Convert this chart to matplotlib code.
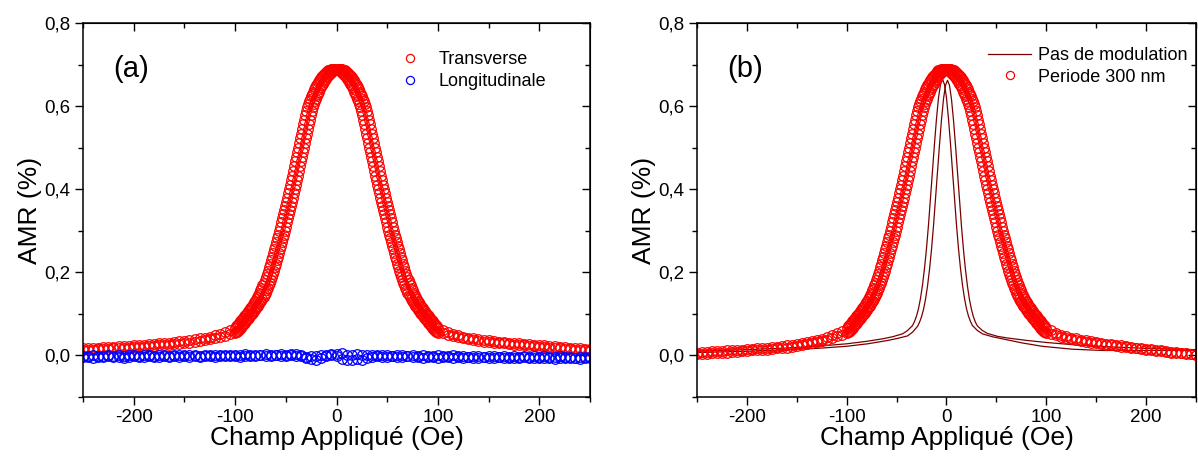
import matplotlib
matplotlib.use("Agg")
import matplotlib.pyplot as plt
from matplotlib.ticker import MultipleLocator, FixedLocator, FixedFormatter

plt.rcParams['font.family'] = ['Liberation Sans', 'DejaVu Sans']
plt.rcParams['axes.unicode_minus'] = False

### Data
# field sweep grid, red curves
h_tail_left = [-250, -245, -240, -235, -230, -225, -220, -215, -210, -205,
               -200, -195, -190, -185, -180, -175, -170, -165, -160, -155,
               -150, -145, -140, -135, -130, -125, -120, -115, -110, -105]
h_core = [-100, -99, -98, -97, -96, -95, -94, -93, -92, -91,
          -90, -89, -88, -87, -86, -85, -84, -83, -82, -81,
          -80, -79, -78, -77, -76, -75, -74, -73, -72, -71,
          -70, -69, -68, -67, -66, -65, -64, -63, -62, -61,
          -60, -59, -58, -57, -56, -55, -54, -53, -52, -51,
          -50, -49, -48, -47, -46, -45, -44, -43, -42, -41,
          -40, -39, -38, -37, -36, -35, -34, -33, -32, -31,
          -30, -29, -28, -27, -26, -25, -24, -23, -22, -21,
          -20, -19, -18, -17, -16, -15, -14, -13, -12, -11,
          -10, -9, -8, -7, -6, -5, -4, -3, -2, -1,
          0, 1, 2, 3, 4, 5, 6, 7, 8, 9,
          10, 11, 12, 13, 14, 15, 16, 17, 18, 19,
          20, 21, 22, 23, 24, 25, 26, 27, 28, 29,
          30, 31, 32, 33, 34, 35, 36, 37, 38, 39,
          40, 41, 42, 43, 44, 45, 46, 47, 48, 49,
          50, 51, 52, 53, 54, 55, 56, 57, 58, 59,
          60, 61, 62, 63, 64, 65, 66, 67, 68, 69,
          70, 71, 72, 73, 74, 75, 76, 77, 78, 79,
          80, 81, 82, 83, 84, 85, 86, 87, 88, 89,
          90, 91, 92, 93, 94, 95, 96, 97, 98, 99,
          100]
h_tail_right = [105, 110, 115, 120, 125, 130, 135, 140, 145, 150,
                155, 160, 165, 170, 175, 180, 185, 190, 195, 200,
                205, 210, 215, 220, 225, 230, 235, 240, 245, 250]

# AMR core (both panels), two sweep branches
amr_core_down = [0.067, 0.070, 0.073, 0.076, 0.079, 0.082, 0.085, 0.088, 0.091, 0.094,
                 0.097, 0.100, 0.103, 0.106, 0.109, 0.113, 0.116, 0.120, 0.124, 0.128,
                 0.132, 0.137, 0.141, 0.146, 0.151, 0.157, 0.163, 0.169, 0.175, 0.182,
                 0.189, 0.196, 0.204, 0.212, 0.220, 0.229, 0.237, 0.246, 0.255, 0.264,
                 0.273, 0.282, 0.291, 0.300, 0.310, 0.320, 0.330, 0.340, 0.350, 0.360,
                 0.370, 0.380, 0.390, 0.400, 0.411, 0.422, 0.433, 0.445, 0.456, 0.467,
                 0.478, 0.489, 0.500, 0.512, 0.523, 0.534, 0.545, 0.556, 0.567, 0.578,
                 0.588, 0.597, 0.605, 0.612, 0.618, 0.624, 0.630, 0.635, 0.640, 0.645,
                 0.650, 0.654, 0.658, 0.662, 0.666, 0.669, 0.672, 0.675, 0.678, 0.680,
                 0.682, 0.684, 0.686, 0.687, 0.688, 0.689, 0.690, 0.690, 0.690, 0.689,
                 0.688, 0.687, 0.686, 0.684, 0.682, 0.680, 0.678, 0.675, 0.672, 0.669,
                 0.666, 0.662, 0.658, 0.654, 0.650, 0.645, 0.640, 0.635, 0.630, 0.624,
                 0.618, 0.612, 0.605, 0.597, 0.588, 0.578, 0.567, 0.556, 0.545, 0.534,
                 0.523, 0.512, 0.500, 0.489, 0.478, 0.467, 0.456, 0.445, 0.433, 0.422,
                 0.411, 0.400, 0.390, 0.380, 0.370, 0.360, 0.350, 0.340, 0.330, 0.320,
                 0.310, 0.300, 0.291, 0.282, 0.273, 0.264, 0.255, 0.246, 0.237, 0.229,
                 0.220, 0.212, 0.204, 0.196, 0.189, 0.182, 0.175, 0.169, 0.163, 0.157,
                 0.151, 0.146, 0.141, 0.137, 0.132, 0.128, 0.124, 0.120, 0.116, 0.113,
                 0.109, 0.106, 0.103, 0.100, 0.097, 0.094, 0.091, 0.088, 0.085, 0.082,
                 0.079, 0.076, 0.073, 0.070, 0.067, 0.064, 0.061, 0.059, 0.057, 0.056,
                 0.055]
amr_core_up = [0.055, 0.056, 0.057, 0.059, 0.061, 0.064, 0.067, 0.070, 0.073, 0.076,
               0.079, 0.082, 0.085, 0.088, 0.091, 0.094, 0.097, 0.100, 0.103, 0.106,
               0.109, 0.113, 0.116, 0.120, 0.124, 0.128, 0.132, 0.137, 0.141, 0.146,
               0.151, 0.157, 0.163, 0.169, 0.175, 0.182, 0.189, 0.196, 0.204, 0.212,
               0.220, 0.229, 0.237, 0.246, 0.255, 0.264, 0.273, 0.282, 0.291, 0.300,
               0.310, 0.320, 0.330, 0.340, 0.350, 0.360, 0.370, 0.380, 0.390, 0.400,
               0.411, 0.422, 0.433, 0.445, 0.456, 0.467, 0.478, 0.489, 0.500, 0.512,
               0.523, 0.534, 0.545, 0.556, 0.567, 0.578, 0.588, 0.597, 0.605, 0.612,
               0.618, 0.624, 0.630, 0.635, 0.640, 0.645, 0.650, 0.654, 0.658, 0.662,
               0.666, 0.669, 0.672, 0.675, 0.678, 0.680, 0.682, 0.684, 0.686, 0.687,
               0.688, 0.689, 0.690, 0.690, 0.690, 0.689, 0.688, 0.687, 0.686, 0.684,
               0.682, 0.680, 0.678, 0.675, 0.672, 0.669, 0.666, 0.662, 0.658, 0.654,
               0.650, 0.645, 0.640, 0.635, 0.630, 0.624, 0.618, 0.612, 0.605, 0.597,
               0.588, 0.578, 0.567, 0.556, 0.545, 0.534, 0.523, 0.512, 0.500, 0.489,
               0.478, 0.467, 0.456, 0.445, 0.433, 0.422, 0.411, 0.400, 0.390, 0.380,
               0.370, 0.360, 0.350, 0.340, 0.330, 0.320, 0.310, 0.300, 0.291, 0.282,
               0.273, 0.264, 0.255, 0.246, 0.237, 0.229, 0.220, 0.212, 0.204, 0.196,
               0.189, 0.182, 0.175, 0.169, 0.163, 0.157, 0.151, 0.146, 0.141, 0.137,
               0.132, 0.128, 0.124, 0.120, 0.116, 0.113, 0.109, 0.106, 0.103, 0.100,
               0.097, 0.094, 0.091, 0.088, 0.085, 0.082, 0.079, 0.076, 0.073, 0.070,
               0.067]

# tails, panel (a) Transverse
trans_left_down = [0.018, 0.018, 0.019, 0.019, 0.020, 0.021, 0.021, 0.022, 0.023, 0.023,
                   0.024, 0.025, 0.026, 0.027, 0.028, 0.029, 0.030, 0.031, 0.033, 0.034,
                   0.035, 0.037, 0.039, 0.041, 0.043, 0.045, 0.048, 0.052, 0.056, 0.061]
trans_left_up = [0.013, 0.014, 0.014, 0.015, 0.015, 0.016, 0.017, 0.017, 0.018, 0.019,
                 0.020, 0.020, 0.021, 0.022, 0.023, 0.024, 0.025, 0.026, 0.027, 0.028,
                 0.030, 0.031, 0.033, 0.035, 0.037, 0.039, 0.041, 0.044, 0.047, 0.051]
trans_right_down = [0.053, 0.050, 0.047, 0.044, 0.041, 0.039, 0.037, 0.035, 0.033, 0.032,
                    0.031, 0.030, 0.029, 0.028, 0.026, 0.025, 0.024, 0.023, 0.022, 0.021,
                    0.020, 0.019, 0.018, 0.017, 0.016, 0.015, 0.014, 0.013, 0.012, 0.011]
trans_right_up = [0.062, 0.057, 0.052, 0.048, 0.045, 0.043, 0.041, 0.039, 0.037, 0.036,
                  0.034, 0.033, 0.032, 0.031, 0.030, 0.029, 0.028, 0.027, 0.026, 0.025,
                  0.024, 0.023, 0.022, 0.021, 0.020, 0.019, 0.018, 0.017, 0.016, 0.015]

# tails, panel (b) Periode 300 nm
per_left_down = [0.007, 0.008, 0.009, 0.010, 0.010, 0.011, 0.012, 0.013, 0.013, 0.014,
                 0.015, 0.016, 0.017, 0.018, 0.019, 0.020, 0.021, 0.023, 0.024, 0.026,
                 0.028, 0.030, 0.032, 0.034, 0.037, 0.040, 0.044, 0.048, 0.053, 0.059]
per_left_up = [0.003, 0.004, 0.004, 0.005, 0.006, 0.007, 0.007, 0.008, 0.009, 0.010,
               0.011, 0.012, 0.012, 0.013, 0.014, 0.015, 0.017, 0.018, 0.019, 0.021,
               0.023, 0.025, 0.027, 0.029, 0.032, 0.035, 0.038, 0.042, 0.046, 0.050]
per_right_down = [0.052, 0.049, 0.045, 0.042, 0.039, 0.037, 0.035, 0.033, 0.031, 0.029,
                  0.028, 0.026, 0.024, 0.023, 0.021, 0.020, 0.018, 0.017, 0.015, 0.014,
                  0.012, 0.011, 0.010, 0.009, 0.007, 0.006, 0.005, 0.004, 0.003, 0.002]
per_right_up = [0.061, 0.055, 0.050, 0.046, 0.043, 0.041, 0.038, 0.036, 0.034, 0.032,
                0.030, 0.028, 0.027, 0.025, 0.024, 0.022, 0.021, 0.019, 0.018, 0.016,
                0.015, 0.013, 0.012, 0.011, 0.009, 0.008, 0.007, 0.005, 0.004, 0.002]

# panel (a) Longitudinale
h_long = [-250, -245, -240, -235, -230, -225, -220, -215, -210, -205,
          -200, -195, -190, -185, -180, -175, -170, -165, -160, -155,
          -150, -145, -140, -135, -130, -125, -120, -115, -110, -105,
          -100, -95, -90, -85, -80, -75, -70, -65, -60, -55,
          -50, -45, -40, -35, -30, -25, -20, -15, -10, -5,
          0, 5, 10, 15, 20, 25, 30, 35, 40, 45,
          50, 55, 60, 65, 70, 75, 80, 85, 90, 95,
          100, 105, 110, 115, 120, 125, 130, 135, 140, 145,
          150, 155, 160, 165, 170, 175, 180, 185, 190, 195,
          200, 205, 210, 215, 220, 225, 230, 235, 240, 245,
          250]
long_up = [-0.002, -0.001, 0.000, -0.002, -0.001, 0.001, -0.001, 0.000, -0.002, 0.000,
           0.001, -0.001, 0.000, 0.002, -0.001, 0.000, 0.001, -0.001, 0.001, 0.000,
           0.002, 0.000, 0.001, -0.001, 0.002, 0.001, 0.000, 0.002, 0.001, 0.000,
           0.002, 0.001, 0.003, 0.000, 0.002, 0.001, 0.003, 0.001, 0.002, 0.003,
           0.002, 0.004, 0.003, 0.001, -0.006, -0.009, -0.010, -0.007, 0.002, 0.004,
           0.003, 0.005, 0.002, 0.001, 0.003, 0.002, 0.000, 0.002, 0.001, 0.000,
           0.001, -0.001, 0.000, 0.001, -0.001, 0.000, -0.002, 0.000, -0.001, -0.002,
           0.000, -0.001, -0.002, 0.000, -0.002, -0.001, -0.003, -0.001, -0.002, -0.003,
           -0.001, -0.002, -0.003, -0.001, -0.003, -0.002, -0.004, -0.002, -0.003, -0.001,
           -0.003, -0.002, -0.004, -0.003, -0.002, -0.004, -0.003, -0.005, -0.003, -0.004,
           -0.003]
long_down = [-0.004, -0.003, -0.005, -0.003, -0.004, -0.002, -0.004, -0.003, -0.005, -0.003,
             -0.002, -0.004, -0.003, -0.002, -0.004, -0.003, -0.001, -0.003, -0.002, -0.004,
             -0.002, -0.003, -0.001, -0.003, -0.002, -0.001, -0.003, -0.002, -0.001, -0.002,
             -0.001, -0.003, -0.002, -0.001, -0.002, 0.000, -0.002, -0.001, 0.000, -0.002,
             -0.001, 0.000, -0.002, -0.001, -0.003, -0.002, -0.001, 0.000, -0.002, 0.001,
             -0.002, -0.008, -0.010, -0.011, -0.009, -0.010, -0.006, -0.003, -0.002, -0.004,
             -0.003, -0.002, -0.004, -0.003, -0.002, -0.004, -0.003, -0.005, -0.003, -0.004,
             -0.005, -0.003, -0.004, -0.006, -0.004, -0.005, -0.003, -0.005, -0.006, -0.004,
             -0.005, -0.006, -0.004, -0.005, -0.007, -0.005, -0.006, -0.004, -0.006, -0.005,
             -0.007, -0.005, -0.006, -0.008, -0.006, -0.005, -0.007, -0.006, -0.008, -0.006,
             -0.007]

# panel (b) Pas de modulation (line, two branches)
h_mod_1 = [-250, -200, -160, -130, -100, -80, -64, -54, -44, -39, -34, -32, -30, -28, -26,
           -24, -22, -20, -18, -16, -14, -12, -10, -8, -6, -4, -2, 0, 2, 4, 6, 8, 10,
           12, 14, 16, 18, 20, 22, 24, 26, 31, 36, 46, 56, 76, 96, 126, 156, 200, 250]
amr_mod_1 = [0.010, 0.014, 0.018, 0.022, 0.028, 0.034, 0.040, 0.045, 0.052, 0.060, 0.072,
             0.082, 0.095, 0.113, 0.138, 0.170, 0.210, 0.258, 0.315, 0.380, 0.445, 0.510,
             0.570, 0.620, 0.652, 0.665, 0.652, 0.620, 0.570, 0.510, 0.445, 0.380, 0.315,
             0.258, 0.210, 0.170, 0.138, 0.113, 0.095, 0.082, 0.072, 0.060, 0.052, 0.045,
             0.040, 0.030, 0.022, 0.015, 0.012, 0.012, 0.012]
h_mod_2 = [-250, -200, -160, -130, -100, -79, -59, -49, -39, -34, -29, -27, -25, -23, -21,
           -19, -17, -15, -13, -11, -9, -7, -5, -3, -1, 1, 3, 5, 7, 9, 11, 13, 15,
           17, 19, 21, 23, 25, 27, 29, 31, 36, 41, 51, 61, 81, 101, 131, 161, 200, 250]
amr_mod_2 = [0.007, 0.010, 0.014, 0.017, 0.022, 0.028, 0.036, 0.041, 0.047, 0.056, 0.070,
             0.080, 0.093, 0.111, 0.135, 0.167, 0.207, 0.255, 0.312, 0.377, 0.442, 0.507,
             0.567, 0.617, 0.650, 0.662, 0.650, 0.617, 0.567, 0.507, 0.442, 0.377, 0.312,
             0.255, 0.207, 0.167, 0.135, 0.111, 0.093, 0.080, 0.071, 0.060, 0.053, 0.046,
             0.042, 0.036, 0.031, 0.025, 0.021, 0.017, 0.014]

y_ticks = [0.0, 0.2, 0.4, 0.6, 0.8]
y_tick_labels = ['0,0', '0,2', '0,4', '0,6', '0,8']
x_ticks = [-200, -100, 0, 100, 200]
x_tick_labels = ['-200', '-100', '0', '100', '200']


### Functions
def setupAxes(ax, tag):
    ax.set_xlim(-250, 250)
    ax.set_ylim(-0.1, 0.8)
    ax.xaxis.set_major_locator(FixedLocator(x_ticks))
    ax.xaxis.set_major_formatter(FixedFormatter(x_tick_labels))
    ax.xaxis.set_minor_locator(MultipleLocator(50))
    ax.yaxis.set_major_locator(FixedLocator(y_ticks))
    ax.yaxis.set_major_formatter(FixedFormatter(y_tick_labels))
    ax.yaxis.set_minor_locator(MultipleLocator(0.1))
    ax.tick_params(which='both', direction='out', labelsize=13.5, width=1.0, pad=3)
    ax.tick_params(which='major', length=6)
    ax.tick_params(which='minor', length=3.5)
    for sp in ax.spines.values():
        sp.set_linewidth(1.1)

    top = ax.secondary_xaxis('top')
    top.set_xticks(x_ticks)
    top.xaxis.set_minor_locator(MultipleLocator(50))
    top.tick_params(which='both', direction='in', labeltop=False, width=1.0)
    top.tick_params(which='major', length=6)
    top.tick_params(which='minor', length=3.5)
    right = ax.secondary_yaxis('right')
    right.set_yticks(y_ticks)
    right.yaxis.set_minor_locator(MultipleLocator(0.1))
    right.tick_params(which='both', direction='in', labelright=False, width=1.0)
    right.tick_params(which='major', length=6)
    right.tick_params(which='minor', length=3.5)

    ax.set_xlabel('Champ Appliqué (Oe)', fontsize=19, labelpad=0)
    ax.set_ylabel('AMR (%)', fontsize=19, labelpad=2)
    ax.text(0.06, 0.855, tag, transform=ax.transAxes, fontsize=21)


marker_style = dict(linestyle='none', marker='o', markersize=6.9,
                    markerfacecolor='none', markeredgewidth=0.9)

fig = plt.figure(figsize=(11.98, 4.58), dpi=100)
ax_a = fig.add_axes([0.0693, 0.1332, 0.4232, 0.8166])
ax_b = fig.add_axes([0.5818, 0.1332, 0.4165, 0.8166])

h_red = h_tail_left + h_core + h_tail_right

# (a)
ax_a.plot(h_red, trans_left_down + amr_core_down + trans_right_down,
          color='#ff0000', markeredgecolor='#ff0000', label='Transverse', **marker_style)
ax_a.plot(h_red, trans_left_up + amr_core_up + trans_right_up,
          color='#ff0000', markeredgecolor='#ff0000', **marker_style)
ax_a.plot(h_long, long_up, color='#0000ff', markeredgecolor='#0000ff',
          label='Longitudinale', **marker_style)
ax_a.plot(h_long, long_down, color='#0000ff', markeredgecolor='#0000ff', **marker_style)
setupAxes(ax_a, '(a)')
ax_a.legend(loc='upper left', bbox_to_anchor=(0.628, 0.925), frameon=False, fontsize=13,
            handlelength=1.0, handletextpad=1.05, labelspacing=0.3, borderpad=0,
            borderaxespad=0, markerscale=0.85)

# (b)
ax_b.plot(h_mod_1, amr_mod_1, color='#7a0000', linewidth=0.9, label='Pas de modulation')
ax_b.plot(h_mod_2, amr_mod_2, color='#7a0000', linewidth=0.9)
ax_b.plot(h_red, per_left_down + amr_core_down + per_right_down,
          color='#ff0000', markeredgecolor='#ff0000', label='Periode 300 nm', **marker_style)
ax_b.plot(h_red, per_left_up + amr_core_up + per_right_up,
          color='#ff0000', markeredgecolor='#ff0000', **marker_style)
setupAxes(ax_b, '(b)')
ax_b.legend(loc='upper left', bbox_to_anchor=(0.583, 0.935), frameon=False, fontsize=13,
            handlelength=2.4, handletextpad=0.35, labelspacing=0.25, borderpad=0,
            borderaxespad=0, markerscale=0.85)

fig.savefig('out.png', dpi=100)
